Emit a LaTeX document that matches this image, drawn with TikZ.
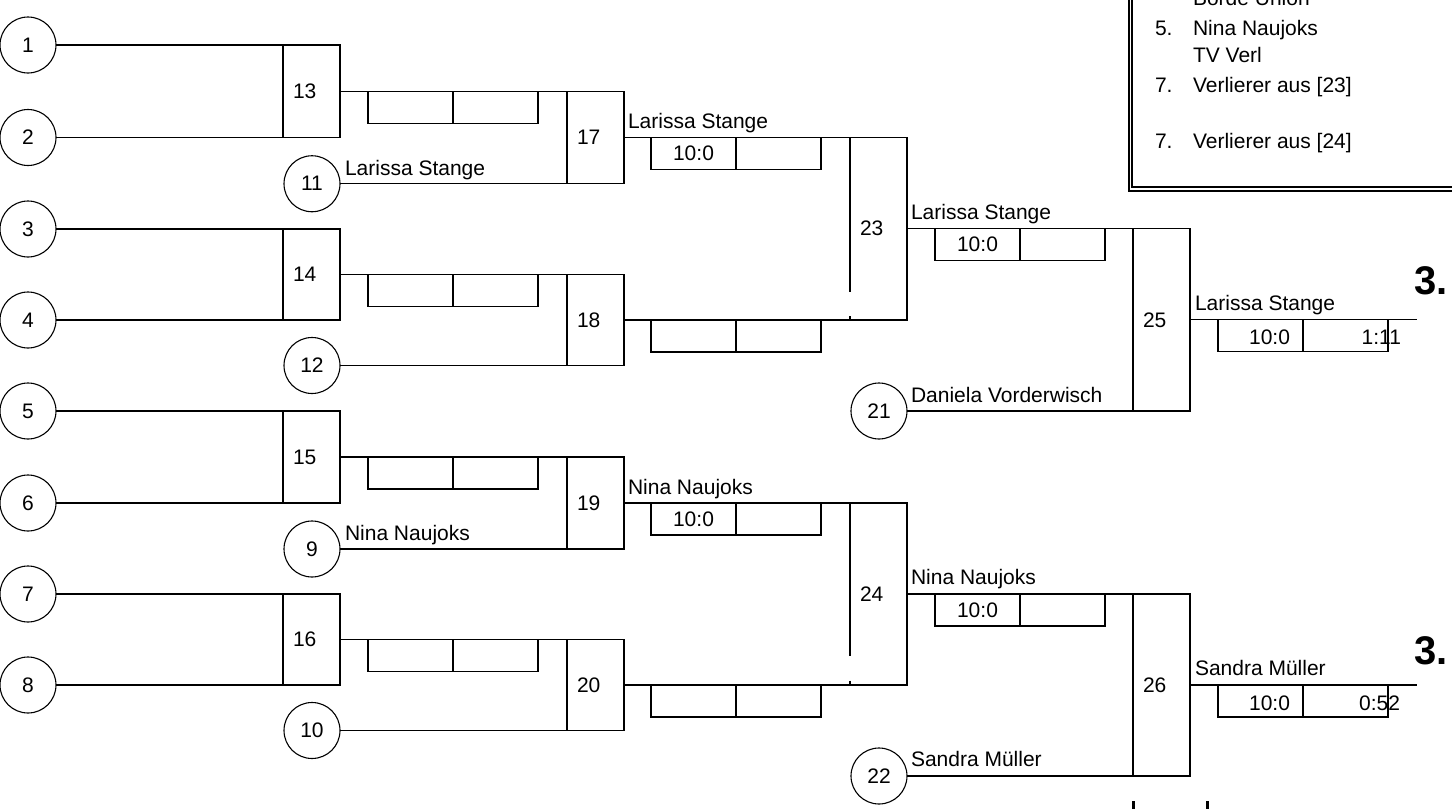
\documentclass[tikz,border=0pt]{standalone}
\usepackage{fontspec}
\setmainfont{Liberation Sans}
\newcommand\matchnode[6][]{% opts, name, label, x left, top y, bottom y
  \node[mbox, minimum height={#6-#5}, #1] (m#2) at ({#4+28.5},{(#5+#6)/2}) {};
  \node[anchor=west] (l#2) at ([xshift=10pt]m#2.west) {#3};}
\newcommand\scorepair[4]{% name, x, y, text
  \node[sbox] (s#1a) at (#2,#3) {#4};
  \node[sbox] (s#1b) at (s#1a.north east) {};}
\begin{document}
\begin{tikzpicture}[x=1pt,y=-1pt, line width=1.1pt,
  every node/.style={font=\fontsize{21}{25}\selectfont, inner sep=0pt, outer sep=0pt},
  ent/.style={draw, circle, minimum size=56pt},
  mbox/.style={draw, rectangle, minimum width=57pt},
  sbox/.style={draw, rectangle, minimum width=85pt, minimum height=32pt, anchor=north west},
  lab/.style={anchor=base west},
  big/.style={anchor=base west, font=\fontsize{40}{46}\selectfont\bfseries}]
\useasboundingbox (0,0) rectangle (1452,809);

% entrants
\node[ent] (c1) at (28,45) {1};
\node[ent] (c2) at (28,137.5) {2};
\node[ent] (c3) at (28,229) {3};
\node[ent] (c4) at (28,320) {4};
\node[ent] (c5) at (28,411) {5};
\node[ent] (c6) at (28,503) {6};
\node[ent] (c7) at (28,594) {7};
\node[ent] (c8) at (28,685) {8};
\node[ent] (c11) at (312,183.75) {11};
\node[ent] (c12) at (312,365.5) {12};
\node[ent] (c9) at (312,549) {9};
\node[ent] (c10) at (312,730.5) {10};
\node[ent] (c21) at (879,411) {21};
\node[ent] (c22) at (879,776) {22};

% match boxes
\matchnode{13}{13}{283}{45}{137.5}
\matchnode{14}{14}{283}{229}{320}
\matchnode{15}{15}{283}{411}{503}
\matchnode{16}{16}{283}{594}{685}
\matchnode{17}{17}{567}{91.25}{183.75}
\matchnode{18}{18}{567}{274.5}{365.5}
\matchnode{19}{19}{567}{457}{549}
\matchnode{20}{20}{567}{639.5}{730.5}
\matchnode[draw=none]{23}{23}{850}{137.5}{320}
\matchnode[draw=none]{24}{24}{850}{503}{685}
\matchnode{25}{25}{1133}{228.75}{411}
\matchnode{26}{26}{1133}{594}{776}

% boxes 23 and 24 with broken left edge
\draw (m23.north west) -- (m23.north east) -- (m23.south east) -- (m23.south west);
\draw (m23.north west) -- ([yshift=28pt]m23.south west);
\draw ([yshift=4pt]m23.south west) -- (m23.south west);
\draw (m24.north west) -- (m24.north east) -- (m24.south east) -- (m24.south west);
\draw (m24.north west) -- ([yshift=29pt]m24.south west);
\draw ([yshift=4.5pt]m24.south west) -- (m24.south west);

% connectors
\draw (c1.east) -- (m13.north west);
\draw (c2.east) -- (m13.south west);
\draw (c3.east) -- (m14.north west);
\draw (c4.east) -- (m14.south west);
\draw (c5.east) -- (m15.north west);
\draw (c6.east) -- (m15.south west);
\draw (c7.east) -- (m16.north west);
\draw (c8.east) -- (m16.south west);
\draw (m13.east) -- (m17.north west);
\draw (c11.east) -- (m17.south west);
\draw (m14.east) -- (m18.north west);
\draw (c12.east) -- (m18.south west);
\draw (m15.east) -- (m19.north west);
\draw (c9.east) -- (m19.south west);
\draw (m16.east) -- (m20.north west);
\draw (c10.east) -- (m20.south west);
\draw (m17.east) -- (m23.north west);
\draw (m18.east) -- (m23.south west);
\draw (m19.east) -- (m24.north west);
\draw (m20.east) -- (m24.south west);
\draw (m23.east) -- (m25.north west);
\draw (c21.east) -- (m25.south west);
\draw (m24.east) -- (m26.north west);
\draw (c22.east) -- (m26.south west);
\coordinate (f25) at ([xshift=227pt]m25.east);
\coordinate (f26) at ([xshift=227pt]m26.east);
\draw (m25.east) -- (f25);
\draw (m26.east) -- (f26);

% score boxes
\scorepair{13}{368}{91.25}{}
\scorepair{14}{368}{274.5}{}
\scorepair{15}{368}{457}{}
\scorepair{16}{368}{639.5}{}
\scorepair{17}{651}{137.5}{10:0}
\scorepair{18}{651}{320}{}
\scorepair{19}{651}{503}{10:0}
\scorepair{20}{651}{685}{}
\scorepair{23}{935}{228.75}{10:0}
\scorepair{24}{935}{594}{10:0}
\scorepair{25}{1218}{319.875}{}
\scorepair{26}{1218}{685}{}
\node[anchor=base] (t25a) at (1269.5,344.9) {10:0};
\node[anchor=base east] (t25b) at (1401,344.9) {1:11};
\node[anchor=base] (t26a) at (1269.5,710) {10:0};
\node[anchor=base east] (t26b) at (1400,710) {0:52};

% names
\node[lab] (n11) at (345,175.75) {Larissa Stange};
\node[lab] (n17) at (628,128.5) {Larissa Stange};
\node[lab] (n23) at (911,219.75) {Larissa Stange};
\node[lab] (n25) at (1195,310.4) {Larissa Stange};
\node[lab] (n21) at (911,402) {Daniela Vorderwisch};
\node[lab] (n9) at (345,540) {Nina Naujoks};
\node[lab] (n19) at (628,494) {Nina Naujoks};
\node[lab] (n24) at (911,584) {Nina Naujoks};
\node[lab] (n22) at (911,766) {Sandra Müller};
\node[lab] (n26) at (1195,675.5) {Sandra Müller};

% places
\node[big] (p25) at (1414,294) {3.};
\node[big] (p26) at (1414,664) {3.};

% legend box (top right)
\draw (1129,-5) -- (1129,191) -- (1460,191);
\draw (1132,-5) -- (1132,187) -- (1460,187);
\node[lab] (g0) at (1193,5) {Borde Union};
\node[lab] (g1n) at (1155,35.7) {5.};
\node[lab] (g1) at (1193,35.7) {Nina Naujoks};
\node[lab] (g1b) at (1193,62.3) {TV Verl};
\node[lab] (g2n) at (1155,92.7) {7.};
\node[lab] (g2) at (1193,92.7) {Verlierer aus [23]};
\node[lab] (g3n) at (1155,148.3) {7.};
\node[lab] (g3) at (1193,148.3) {Verlierer aus [24]};

% cut-off marks at the bottom
\fill (1131.5,801) rectangle (1134.5,810);
\fill (1205.5,801) rectangle (1208.5,810);
\end{tikzpicture}
\end{document}
